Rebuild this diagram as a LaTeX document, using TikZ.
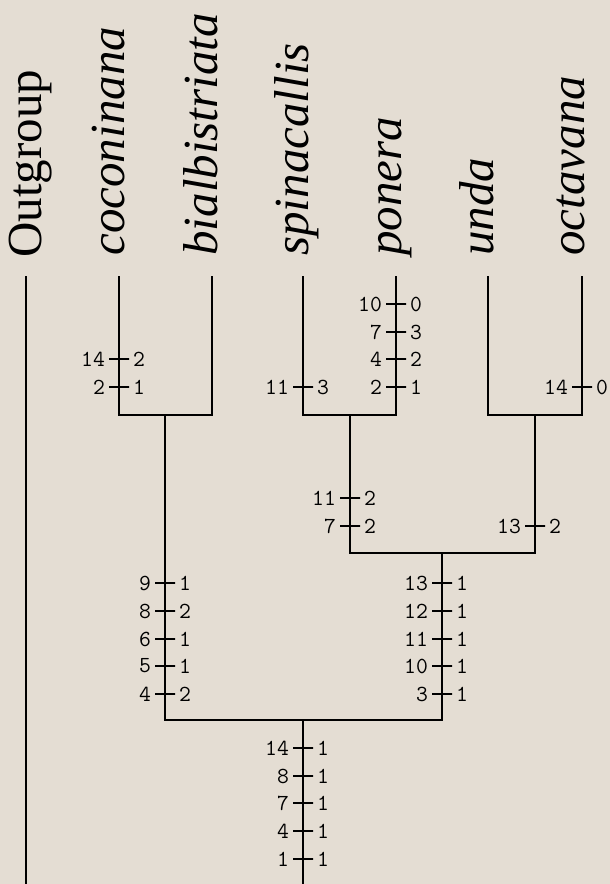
\documentclass[tikz,border=0pt]{standalone}
\usepackage{fontspec}
\newfontfamily\taxfont{Liberation Serif}
\usetikzlibrary{positioning}
\definecolor{paper}{RGB}{228,221,211}
\tikzset{branch/.style={line width=1pt,line cap=rect},
  taxon/.style={rotate=90,anchor=mid west,inner sep=0pt,font=\taxfont\fontsize{24.5}{25}\selectfont},
  species/.style={taxon,font=\taxfont\fontsize{24.5}{25}\selectfont\itshape},
  tickmark/.style={draw,line width=0.7pt,minimum width=10pt,minimum height=0pt,inner sep=0pt},
  chr/.style={inner sep=0pt,font=\ttfamily\fontsize{11.5}{12}\selectfont},}

\begin{document}
\begin{tikzpicture}[x=0.5pt,y=-0.5pt]
	\newcommand{\chglist}[3]{\foreach \y/\c/\s [count=\i] in {#3}{
		\node[tickmark] (#1\i) at (#2,\y) {};
		\node[chr,left=1.5pt of #1\i] (#1\i-c) {\c};
		\node[chr,right=1.5pt of #1\i] (#1\i-s) {\s};}};
	\fill[paper] (0,0) rectangle (610,884);
	\useasboundingbox (0,0) rectangle (610,884);
	% taxa
	\node[taxon] (Out) at (37,258) {Outgroup};
	\node[species] (Coc) at (120,256) {coconinana};
	\node[species] (Bia) at (213,256) {bialbistriata};
	\node[species] (Spi) at (304,256) {spinacallis};
	\node[species] (Pon) at (397,256) {ponera};
	\node[species] (Und) at (489,256) {unda};
	\node[species] (Oct) at (580,256) {octavana};
	% tips and internal nodes
	\coordinate (tOut) at (26,277);
	\coordinate (tCoc) at (119,277);
	\coordinate (tBia) at (212,277);
	\coordinate (tSpi) at (303,277);
	\coordinate (tPon) at (396,277);
	\coordinate (tUnd) at (488,277);
	\coordinate (tOct) at (582,277);
	\coordinate (nCB) at (165,415);
	\coordinate (nSP) at (350,415);
	\coordinate (nUO) at (535,415);
	\coordinate (nSU) at (442,553);
	\coordinate (nIn) at (303,720);
	\coordinate (root) at (303,884);
	\coordinate (bOut) at (26,884);
	\draw[branch] (tOut) -- (bOut);
	\draw[branch] (tCoc) |- (nCB) -| (tBia);
	\draw[branch] (tSpi) |- (nSP) -| (tPon);
	\draw[branch] (tUnd) |- (nUO) -| (tOct);
	\draw[branch] (nSP) |- (nSU) -| (nUO);
	\draw[branch] (nCB) |- (nIn) -| (nSU);
	\draw[branch] (nIn) -- (root);
	% character changes
	\chglist{coc}{119}{359/14/2, 387/2/1}
	\chglist{spi}{303}{387/11/3}
	\chglist{pon}{396}{304/10/0, 332/7/3, 359/4/2, 387/2/1}
	\chglist{oct}{582}{387/14/0}
	\chglist{sp}{350}{498/11/2, 526/7/2}
	\chglist{uo}{535}{526/13/2}
	\chglist{cb}{165}{583/9/1, 611/8/2, 639/6/1, 666/5/1, 694/4/2}
	\chglist{su}{442}{583/13/1, 611/12/1, 639/11/1, 666/10/1, 694/3/1}
	\chglist{in}{303}{748/14/1, 776/8/1, 803/7/1, 831/4/1, 859/1/1}
\end{tikzpicture}
\end{document}
